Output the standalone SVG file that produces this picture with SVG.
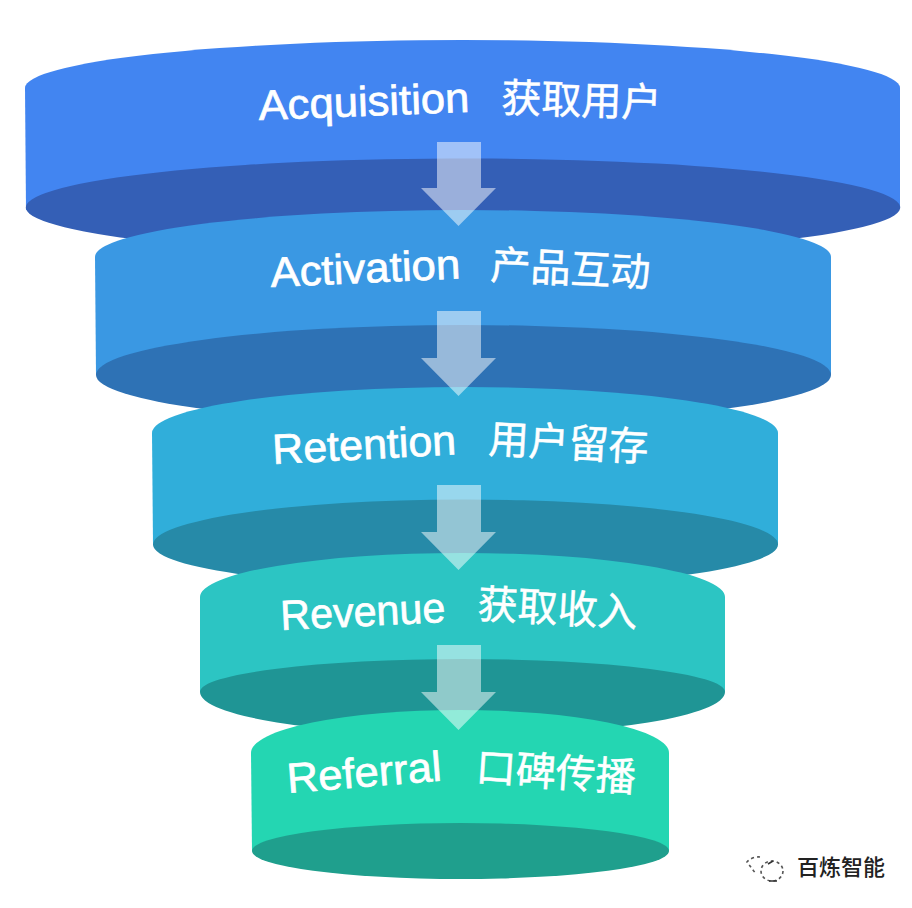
<svg xmlns="http://www.w3.org/2000/svg" width="912" height="908" viewBox="0 0 912 908">
  <style>
    .lat { font-family: "Liberation Sans", Arial, sans-serif; fill: #fff; stroke: #fff; stroke-width: 0.7; font-size: 42px; }
    .cjk { font-family: "Noto Sans CJK SC", "Noto Sans", sans-serif; fill: #fff; stroke: #fff; stroke-width: 0.5; font-size: 40px; }
    .flow { fill: #fff; fill-opacity: 0.5; }
    .mark { fill: none; stroke: #555; stroke-width: 1.6; stroke-dasharray: 3 3; }
  </style>
  <rect width="912" height="908" fill="#fff"/>

  <g id="layer-acquisition">
    <path d="M25 88 A437.500 48 0 0 1 900 88 L900 206 L26 210 Z" fill="#4285f1"/>
    <path d="M26 209 A437 49 0 0 1 900 206 A437 48 0 0 1 26 209 Z" fill="#345fb6"/>
  </g>
  <g id="layer-activation">
    <path d="M95 257 A368 47 0 0 1 831 257 L831 375 L96 375 Z" fill="#3a98e3"/>
    <path d="M96 375 A367.500 50 0 0 1 831 375 A367.500 48 0 0 1 96 375 Z" fill="#2e72b5"/>
  </g>
  <g id="layer-retention">
    <path d="M152 433 A313 46 0 0 1 778 433 L778 544 L153 545 Z" fill="#30aeda"/>
    <path d="M153 545 A312.500 45 0 0 1 778 544 A312.500 43 0 0 1 153 545 Z" fill="#268aa8"/>
  </g>
  <g id="layer-revenue">
    <path d="M200 597 A262.500 44 0 0 1 725 597 L725 692 L200 692 Z" fill="#2cc5c3"/>
    <path d="M200 692 A262.500 33 0 0 1 725 692 A262.500 43 0 0 1 200 692 Z" fill="#1f9595"/>
  </g>
  <g id="layer-referral">
    <path d="M251 753 A209 43 0 0 1 669 753 L669 851 L252 851 Z" fill="#24d6b2"/>
    <path d="M252 851 A208.500 28 0 0 1 669 851 A208.500 28 0 0 1 252 851 Z" fill="#1f9f8d"/>
  </g>

  <g id="connectors">
    <path class="flow" d="M437 142 H481 V188 H496 L458.500 226 L421 188 H437 Z"/>
    <path class="flow" d="M437 311 H481 V358 H496 L458.500 396 L421 358 H437 Z"/>
    <path class="flow" d="M437 485 H481 V532 H496 L458.500 570 L421 532 H437 Z"/>
    <path class="flow" d="M437 645 H481 V692 H496 L458.500 730 L421 692 H437 Z"/>
  </g>

  <g id="labels">
    <text class="lat" textLength="211" lengthAdjust="spacingAndGlyphs" transform="translate(259 120) rotate(-2.2)">Acquisition</text>
    <text class="cjk" transform="translate(501 112) rotate(1.8)">获取用户</text>
    <text class="lat" textLength="190" lengthAdjust="spacingAndGlyphs" transform="translate(271 287) rotate(-2.6)">Activation</text>
    <text class="cjk" transform="translate(490 279) rotate(2.8)">产品互动</text>
    <text class="lat" textLength="184" lengthAdjust="spacingAndGlyphs" transform="translate(273 464) rotate(-3)">Retention</text>
    <text class="cjk" transform="translate(488 453) rotate(3)">用户留存</text>
    <text class="lat" textLength="165" lengthAdjust="spacingAndGlyphs" transform="translate(281 630) rotate(-2.8)">Revenue</text>
    <text class="cjk" transform="translate(477 618) rotate(3.2)">获取收入</text>
    <text class="lat" textLength="155" lengthAdjust="spacingAndGlyphs" transform="translate(288 793) rotate(-4.6)">Referral</text>
    <text class="cjk" transform="translate(475 781) rotate(4)">口碑传播</text>
  </g>

  <g id="watermark">
    <path class="mark" d="M760 857 A14 12 0 0 0 747 862 L756 874"/>
    <ellipse class="mark" cx="772" cy="871" rx="11" ry="10"/>
    <path d="M769 881 H777 M768 864 L773 861" fill="none" stroke="#333" stroke-width="1.6"/>
    <text font-family="'Noto Sans CJK SC', sans-serif" font-size="22" font-weight="500" fill="#222" x="797" y="875">百炼智能</text>
  </g>
</svg>
